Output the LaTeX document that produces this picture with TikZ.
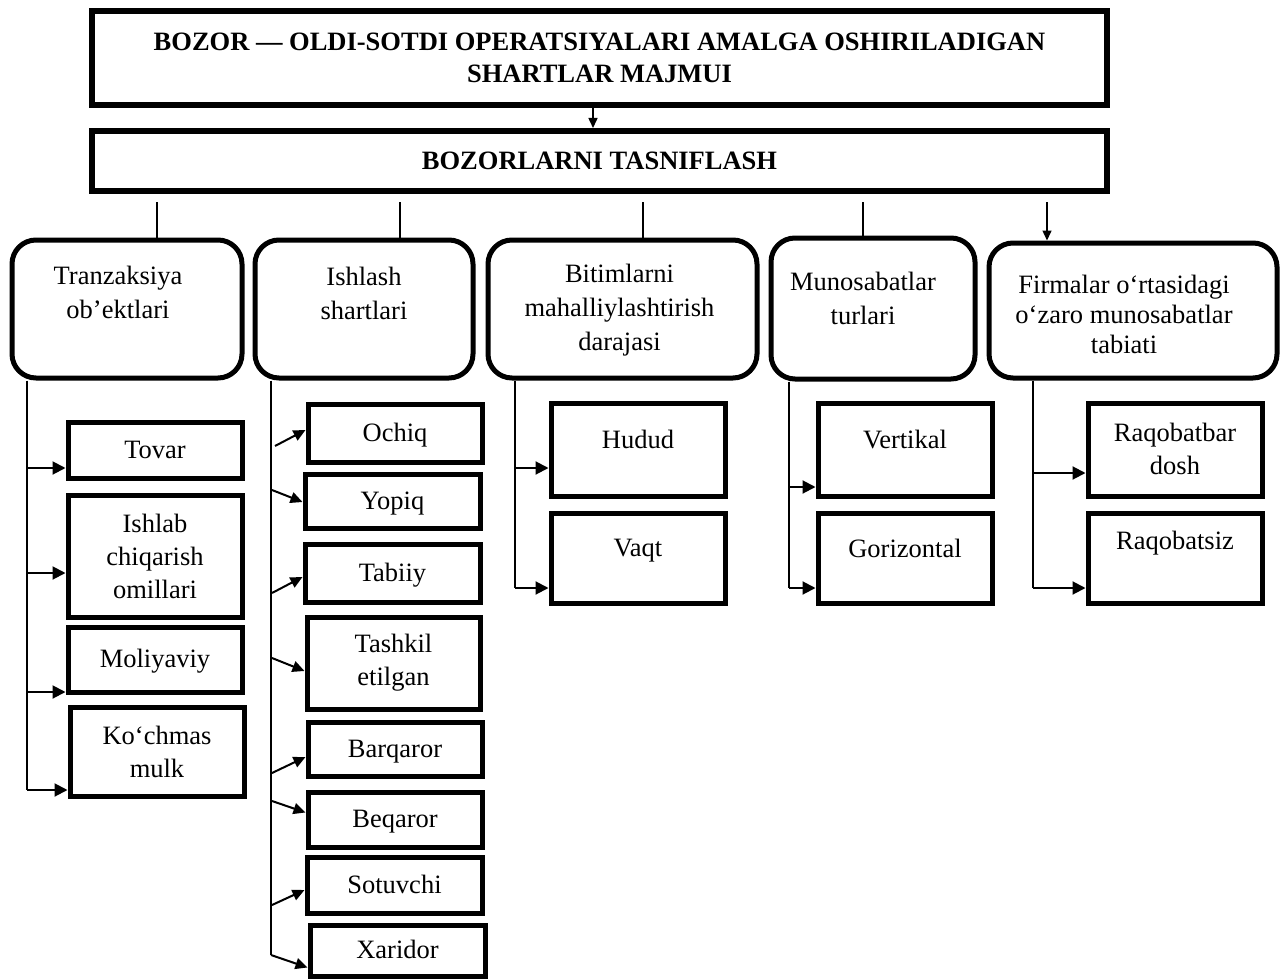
\documentclass[tikz,border=0pt]{standalone}
\usepackage{fontspec}
\setmainfont{Liberation Serif}
\usetikzlibrary{arrows.meta}
% #1 parbox width, #2 height, #3 first-baseline offset, #4 right pad, #5 text
\newcommand\bxt[5]{\parbox[c][#2][t]{#1}{\centering\rule{0pt}{#3}#5\par}\hspace*{#4}}
\begin{document}
\begin{tikzpicture}[x=1pt,y=-1pt,
  title/.style={draw,line width=6pt,inner sep=0pt,align=center,font=\fontsize{26.5}{32}\selectfont\bfseries},
  cat/.style={draw,line width=5pt,rounded corners=24pt,inner sep=0pt,font=\fontsize{26.5}{34}\selectfont},
  leafb/.style={draw,line width=5pt,inner sep=0pt,font=\fontsize{26.5}{33}\selectfont},
  leaf/.style={leafb,align=center},
  one/.style={leafb,text height=17pt,text depth=1pt},
  ln/.style={line width=2pt},
  arr/.style={line width=2pt,-{Triangle[length=13pt,width=13pt]}},
  darr/.style={line width=2pt,-{Triangle[length=12pt,width=11pt]}},
  tarr/.style={line width=1.5pt,-{Triangle[length=10pt,width=9pt]}},
  tln/.style={line width=1.5pt}]
\useasboundingbox (0,0) rectangle (1281,979);
\fill[white] (0,0) rectangle (1281,979);

% title boxes
\node[title,minimum width=1015pt,minimum height=94pt] (t1) at (599.5,58)
  {BOZOR — OLDI-SOTDI OPERATSIYALARI AMALGA OSHIRILADIGAN\\SHARTLAR MAJMUI};
\node[title,minimum width=1015pt,minimum height=60pt] (t2) at (599.5,161)
  {BOZORLARNI TASNIFLASH};
\coordinate (a0) at (593,108);
\draw[tarr] (a0) -- (a0 |- t2.north);

% category boxes
\node[cat] (c1) at (127,309) {\bxt{212pt}{138pt}{44pt}{18pt}{Tranzaksiya\\ob’ektlari}};
\node[cat] (c2) at (364,309) {\bxt{218pt}{138pt}{45pt}{0pt}{Ishlash\\shartlari}};
\node[cat] (c3) at (622.5,309) {\bxt{263pt}{138pt}{42pt}{6pt}{Bitimlarni\\mahalliylashtirish\\darajasi}};
\node[cat] (c4) at (873,308.5) {\bxt{184pt}{141pt}{52pt}{20pt}{Munosabatlar\\turlari}};
\node[cat] (c5) at (1133,310.5) {\bxt{270pt}{135pt}{50pt}{18pt}{\fontsize{26.5}{30}\selectfont Firmalar o‘rtasidagi\\o‘zaro munosabatlar\\tabiati}};

\coordinate (d1) at (157,202);
\coordinate (d2) at (400,202);
\coordinate (d3) at (643,202);
\coordinate (d4) at (863,202);
\coordinate (d5) at (1047,202);
\draw[tln] (d1) -- (d1 |- c1.north);
\draw[tln] (d2) -- (d2 |- c2.north);
\draw[tln] (d3) -- (d3 |- c3.north);
\draw[tln] (d4) -- (d4 |- c4.north);
\draw[tarr] (d5) -- (d5 |- c5.north);

% column 1
\node[one,minimum width=174pt,minimum height=56pt] (tovar) at (155,450) {Tovar};
\node[leaf,minimum width=174pt,minimum height=122pt] (ishlab) at (155,556) {Ishlab\\chiqarish\\omillari};
\node[one,minimum width=174pt,minimum height=65pt] (moliya) at (155,659.5) {Moliyaviy};
\node[leaf,minimum width=174pt,minimum height=89pt] (kochmas) at (157,752) {Ko‘chmas\\mulk};
\coordinate (s1) at (27,790);
\draw[ln] (s1 |- c1.south) -- (s1);
\coordinate (p1) at (27,468);
\coordinate (p2) at (27,573);
\coordinate (p3) at (27,692);
\draw[arr] (p1) -- (p1 -| tovar.west);
\draw[arr] (p2) -- (p2 -| ishlab.west);
\draw[arr] (p3) -- (p3 -| moliya.west);
\draw[arr] (s1) -- (s1 -| kochmas.west);

% column 2
\node[one,minimum width=174pt,minimum height=58pt] (ochiq) at (395,433) {Ochiq};
\node[one,minimum width=175pt,minimum height=54pt] (yopiq) at (392.5,501) {Yopiq};
\node[one,minimum width=175pt,minimum height=58pt] (tabiiy) at (392.5,573) {Tabiiy};
\node[leaf,minimum width=173pt,minimum height=92pt] (tashkil) at (393.5,663) {Tashkil\\etilgan};
\node[one,minimum width=174pt,minimum height=54pt] (barqaror) at (395,749) {Barqaror};
\node[one,minimum width=174pt,minimum height=55pt] (beqaror) at (395,819.5) {Beqaror};
\node[one,minimum width=175pt,minimum height=56pt] (sotuvchi) at (394.5,885) {Sotuvchi};
\node[one,minimum width=175pt,minimum height=51pt] (xaridor) at (397.5,950.5) {Xaridor};
\coordinate (s2) at (271,955);
\draw[ln] (s2 |- c2.south) -- (s2);
\coordinate (q1) at (275,446);
\coordinate (q2) at (272,490);
\coordinate (q3) at (272,593);
\coordinate (q4) at (272,658);
\coordinate (q5) at (272,773);
\coordinate (q6) at (272,801);
\coordinate (q7) at (272,905);
\draw[darr] (q1) -- ([yshift=3pt]ochiq.west);
\draw[darr] (q2) -- ([yshift=-1pt]yopiq.west);
\draw[darr] (q3) -- ([yshift=-4pt]tabiiy.west);
\draw[darr] (q4) -- ([yshift=-8pt]tashkil.west);
\draw[darr] (q5) -- ([yshift=-8pt]barqaror.west);
\draw[darr] (q6) -- ([yshift=7pt]beqaror.west);
\draw[darr] (q7) -- ([yshift=-5pt]sotuvchi.west);
\draw[darr] (s2) -- ([yshift=-17pt]xaridor.west);

% column 3
\node[leafb] (hudud) at (638,449.5) {\bxt{174pt}{93pt}{45pt}{0pt}{Hudud}};
\node[leafb] (vaqt) at (638,558) {\bxt{174pt}{90pt}{43pt}{0pt}{Vaqt}};
\coordinate (s3) at (515,588);
\coordinate (r3) at (515,468);
\draw[ln] (s3 |- c3.south) -- (s3);
\draw[arr] (r3) -- (r3 -| hudud.west);
\draw[arr] (s3) -- (s3 -| vaqt.west);

% column 4
\node[leafb] (vert) at (905,449.5) {\bxt{174pt}{93pt}{45pt}{0pt}{Vertikal}};
\node[leafb] (gor) at (905,558) {\bxt{174pt}{90pt}{44pt}{0pt}{Gorizontal}};
\coordinate (s4) at (789,588);
\coordinate (r4) at (789,487);
\draw[ln] (s4 |- c4.south) -- (s4);
\draw[arr] (r4) -- (r4 -| vert.west);
\draw[arr] (s4) -- (s4 -| gor.west);

% column 5
\node[leafb] (raq1) at (1175,449.5) {\bxt{174pt}{93pt}{38pt}{0pt}{Raqobatbar\\dosh}};
\node[leafb] (raq2) at (1175,558) {\bxt{174pt}{90pt}{36pt}{0pt}{Raqobatsiz}};
\coordinate (s5) at (1033,588);
\coordinate (r5) at (1033,473);
\draw[ln] (s5 |- c5.south) -- (s5);
\draw[arr] (r5) -- (r5 -| raq1.west);
\draw[arr] (s5) -- (s5 -| raq2.west);
\end{tikzpicture}
\end{document}
